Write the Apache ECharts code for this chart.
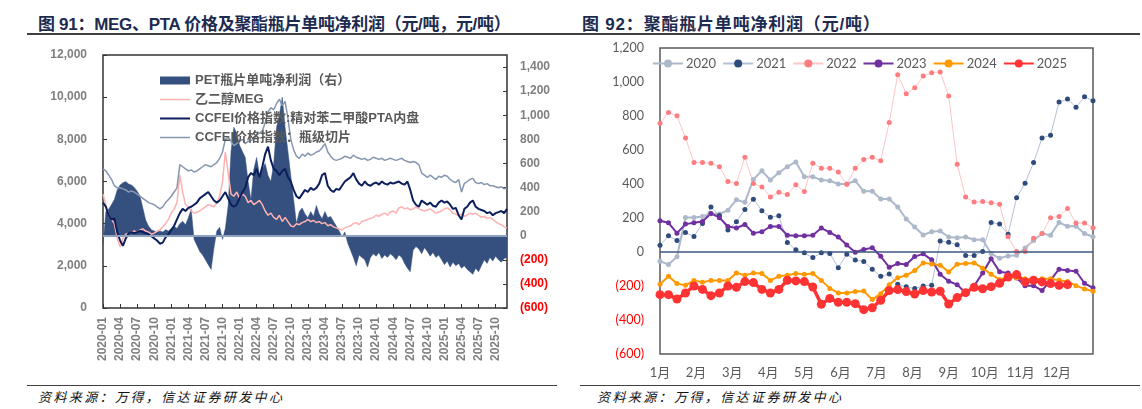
<!DOCTYPE html>
<html>
<head>
<meta charset="utf-8">
<script src="https://cdn.jsdelivr.net/npm/echarts@6/dist/echarts.min.js"></script>
<style>
  body { margin:0; width:1142px; height:409px; background:#fff; position:relative; overflow:hidden; }
  .title { position:absolute; top:10px; font:bold 17px "Liberation Sans","Noto Sans CJK SC",sans-serif; color:#1d2b50; white-space:nowrap; }
  .rule { position:absolute; background:#404040; }
  .src { position:absolute; top:387px; font:italic 13px "Noto Sans CJK SC",sans-serif; letter-spacing:2.4px; color:#111; white-space:nowrap; }
  .chart { position:absolute; top:0; height:385px; }
</style>
</head>
<body>
<div class="title" style="left:38px;letter-spacing:-0.3px">图 91：MEG、PTA 价格及聚酯瓶片单吨净利润（元/吨，元/吨）</div>
<div class="title" style="left:582px;letter-spacing:0.8px">图 92：聚酯瓶片单吨净利润（元/吨）</div>
<div class="rule" style="left:27px;top:33px;width:1113px;height:2px"></div>
<div id="left" class="chart" style="left:0;width:570px"></div>
<div id="right" class="chart" style="left:570px;width:572px"></div>
<div class="rule" style="left:27px;top:385px;width:530px;height:1px"></div>
<div class="rule" style="left:580px;top:385px;width:560px;height:1px"></div>
<div class="src" style="left:38px">资料来源：万得，信达证券研发中心</div>
<div class="src" style="left:597px">资料来源：万得，信达证券研发中心</div>
<script>
// ---------- 图91 数据（半月一个点，2020-01 ~ 2025-12） ----------
var years = [2020, 2021, 2022, 2023, 2024, 2025];
// PET瓶片单吨净利润（右轴）
var profit2020 = [-80,200,220,260,300,380,420,440,450,430,420,400,370,330,230,130,80,50,40,30,40,30,50,40];
var profit2021 = [60,80,60,100,120,90,150,220,-30,-80,-130,-160,-200,-240,-280,-100,40,70,-30,60,250,700,900,850];
var profit2022 = [750,700,650,450,300,550,650,500,550,600,500,450,600,900,1000,1150,900,700,500,300,100,200,230,180];
var profit2023 = [150,200,160,250,180,140,200,150,160,120,80,40,-10,30,-60,-120,-180,-250,-160,-180,-200,-260,-180,-150];
var profit2024 = [-170,-140,-190,-160,-180,-150,-170,-200,-160,-180,-230,-270,-300,-120,-90,-110,-150,-100,-130,-170,-140,-180,-160,-200];
var profit2025 = [-240,-210,-260,-220,-250,-230,-270,-250,-280,-300,-320,-270,-300,-250,-200,-230,-180,-210,-170,-200,-220,-190,-180];
// 乙二醇MEG
var meg2020 = [5400,4900,4400,4200,4000,3300,2900,3300,3500,3550,3600,3650,3600,3700,3750,3650,3600,3500,3550,3650,3700,3850,4000,4200];
var meg2021 = [4500,4700,5000,6300,5500,4900,4800,4600,4500,4550,4600,4700,4800,4900,4850,4800,5000,5300,6000,7400,6400,5400,5300,5500];
var meg2022 = [5200,5400,5300,5000,5100,4900,5000,5100,4900,4600,4400,4500,4300,4200,4400,4100,4300,4100,3900,3850,4000,3950,4050,4100];
var meg2023 = [4200,4100,4150,4050,4100,4000,4050,3900,3950,3850,3800,3750,3700,3800,3850,3900,4000,4050,3950,4100,4150,4200,4250,4300];
var meg2024 = [4400,4350,4450,4500,4400,4550,4600,4500,4750,4800,4700,4750,4650,4700,4800,4700,4650,4600,4650,4700,4600,4500,4550,4600];
var meg2025 = [4700,4750,4650,4500,4450,4400,4450,4350,4400,4500,4450,4500,4400,4300,4350,4250,4300,4200,4100,4000,3950,3850,3800];
// CCFEI价格指数:精对苯二甲酸PTA内盘
var pta2020 = [5000,4800,4400,4200,4250,3600,3200,2950,3300,3550,3600,3550,3600,3650,3600,3550,3500,3400,3300,3200,3050,3100,3350,3500];
var pta2021 = [3700,3900,4200,4500,4700,4600,4750,4800,4900,5000,5200,5300,5400,5500,5300,5100,5000,5100,5300,5500,5200,4900,4800,4900];
var pta2022 = [5200,5500,5700,6200,6400,6300,6600,6200,6700,7300,7650,7000,6600,6500,6300,6500,6600,6200,6000,5600,5300,5200,5400,5600];
var pta2023 = [5500,5700,5600,5700,5900,6300,6400,5800,5600,5500,5650,5600,5800,6000,6100,6200,6400,6100,5900,5800,6000,5850,5800,5900];
var pta2024 = [5950,5850,6000,5900,5850,5950,5900,5950,6000,5900,5850,6000,5600,5100,4900,4800,5100,5000,4900,5000,4850,4800,5000,5100];
var pta2025 = [5000,5050,4900,4700,4750,4400,4200,4700,4800,5000,5100,4800,4700,4650,4600,4500,4550,4400,4500,4550,4600,4500,4700];
// CCFEI价格指数：瓶级切片
var chip2020 = [6600,6500,6300,6100,5800,5700,5700,5650,5600,5500,5550,5500,5400,5300,5200,5100,5000,4950,4900,4800,4700,4800,5000,5150];
var chip2021 = [5300,5500,5700,6800,6700,6600,6500,6550,6450,6500,6600,6700,6800,6750,6700,6800,6900,7100,7400,8000,8100,7900,7700,7800];
var chip2022 = [7900,8000,7800,7900,7950,8000,8200,8300,8400,8800,9300,9500,9400,9700,9900,9600,9800,9000,8000,7500,7200,7100,7300,7200];
var chip2023 = [7350,7250,7300,7400,7450,7600,7800,7400,7200,7050,7000,7050,7100,7200,7150,7100,7250,7150,7100,7050,7100,7000,7050,7150];
var chip2024 = [7100,7050,7100,7000,7050,7100,7050,7000,7050,7100,7000,6950,6900,6950,6900,6800,6400,6300,6200,6300,6200,6100,6250,6200];
var chip2025 = [6300,6250,6100,6000,5950,6100,5500,5900,6000,6100,6150,5950,5900,5950,5850,5900,5800,5800,5750,5700,5750,5650,5700];

// ---------- 图92 数据（周度） ----------
var monthLabels = ['1月','2月','3月','4月','5月','6月','7月','8月','9月','10月','11月','12月',''];
var y2020 = [-54,-74,-28,203,203,209,225,223,246,307,292,427,478,423,466,502,530,443,443,423,419,400,400,419,357,357,
             312,312,265,194,147,100,119,123,88,84,88,72,72,-9,-37,-23,-19,23,68,109,99,174,151,151,109,90];
var y2021 = [40,95,68,115,91,167,264,214,130,178,250,311,242,205,213,56,13,-5,-33,-5,-9,-92,-13,-47,-56,-101,
             -143,-129,-190,-205,-215,-200,-195,64,58,42,-21,-21,3,174,164,105,319,405,526,671,687,882,900,852,913,890];
var y2022 = [758,821,801,671,526,526,522,502,415,403,557,403,383,324,352,338,395,356,522,493,493,471,398,493,544,557,
             537,762,1043,931,966,1035,1055,1059,917,516,323,294,297,289,281,89,3,3,81,109,201,209,256,170,170,143];
var y2023 = [184,172,111,164,172,180,227,202,150,141,162,111,119,150,150,99,95,95,99,141,115,88,41,-1,15,25,
             -25,-90,-68,-74,-27,-11,-46,-131,-172,-192,-241,-200,-123,-39,-116,-123,-153,-198,-198,-227,-166,-101,-109,-113,-184,-211];
var y2024 = [-190,-143,-186,-196,-167,-178,-167,-167,-167,-123,-137,-123,-127,-167,-143,-137,-127,-131,-127,-167,-214,-241,-241,-233,-229,-280,
             -245,-192,-152,-137,-109,-64,-70,-78,-117,-72,-68,-64,-95,-131,-162,-148,-152,-158,-162,-158,-158,-166,-174,-198,-217,-231];
var y2025 = [-251,-251,-277,-241,-200,-220,-257,-241,-200,-208,-174,-180,-220,-241,-220,-166,-170,-174,-206,-308,-273,-296,-296,-304,-339,-328,
             -284,-227,-221,-233,-247,-227,-235,-231,-306,-268,-239,-208,-216,-204,-184,-147,-133,-176,-166,-176,-186,-196,-192];

// 半月日期类目
var dates = [];
years.forEach(function (y) {
    for (var m = 1; m <= 12; m++) {
        var mm = (m < 10 ? '0' : '') + m;
        dates.push(y + '-' + mm + '-01');
        dates.push(y + '-' + mm + '-16');
    }
});
dates = dates.slice(0, 143);
var profit = [].concat(profit2020, profit2021, profit2022, profit2023, profit2024, profit2025);
var meg = [].concat(meg2020, meg2021, meg2022, meg2023, meg2024, meg2025);
var pta = [].concat(pta2020, pta2021, pta2022, pta2023, pta2024, pta2025);
var chip = [].concat(chip2020, chip2021, chip2022, chip2023, chip2024, chip2025);

var weeks = [];
for (var i = 1; i <= 52; i++) weeks.push('W' + i);

function thousands(v) {
    return String(Math.abs(v)).replace(/\B(?=(\d{3})+(?!\d))/g, ',');
}
function signed(v) {  // 负数用括号、红色
    return v < 0 ? '{n|(' + thousands(v) + ')}' : '{p|' + thousands(v) + '}';
}
// 图例里的细线图标（保持比例，30 x 线宽）
function barIcon(h) {
    return 'path://M0,0 H60 V' + (h * 2) + ' H0 Z';
}

// ---------- 图91 ----------
var leftFont = '"Liberation Sans", Arial, "Noto Sans CJK SC", sans-serif';
var optionL = {
    animation: false,
    textStyle: { fontFamily: leftFont },
    grid: { left: 103, top: 55, width: 404, height: 253, show: true, borderColor: '#333333', borderWidth: 1.5 },
    legend: {
        orient: 'vertical',
        left: 155,
        top: 69,
        itemWidth: 30,
        itemHeight: 8,
        itemGap: 6,
        textStyle: { color: '#595959', fontSize: 13, fontWeight: 'bold', fontFamily: leftFont },
        data: [
            { name: 'PET瓶片单吨净利润（右）', icon: 'rect' },
            { name: '乙二醇MEG', icon: barIcon(1.5) },
            { name: 'CCFEI价格指数:精对苯二甲酸PTA内盘', icon: barIcon(2) },
            { name: 'CCFEI价格指数：瓶级切片', icon: barIcon(1.5) }
        ]
    },
    xAxis: {
        type: 'category',
        data: dates,
        boundaryGap: false,
        axisLine: { show: false },
        axisTick: { show: true, inside: true, interval: 5, length: 4, lineStyle: { color: '#333333' } },
        axisLabel: {
            interval: 5, rotate: 90, margin: 9,
            color: '#7f7f7f', fontWeight: 'bold', fontSize: 12,
            formatter: function (v) { return v.slice(0, 7); }
        }
    },
    yAxis: [{
        type: 'value', min: 0, max: 12000, interval: 2000,
        splitLine: { show: false },
        axisLine: { show: false },
        axisTick: { show: true, inside: true, length: 4, lineStyle: { color: '#333333' } },
        axisLabel: { margin: 16, color: '#7f7f7f', fontWeight: 'bold', fontSize: 12, formatter: thousands }
    }, {
        type: 'value', min: -600, max: 1500, interval: 200, position: 'right',
        splitLine: { show: false },
        axisLine: { show: false },
        axisTick: { show: true, inside: true, length: 4, lineStyle: { color: '#333333' } },
        axisLabel: {
            margin: 13, showMaxLabel: false, formatter: signed,
            rich: {
                p: { color: '#7f7f7f', fontWeight: 'bold', fontSize: 12, fontFamily: leftFont },
                n: { color: '#ff0000', fontWeight: 'bold', fontSize: 12, fontFamily: leftFont }
            }
        }
    }],
    series: [{
        name: 'PET瓶片单吨净利润（右）',
        type: 'line', yAxisIndex: 1, data: profit,
        symbol: 'none', color: '#35507e',
        lineStyle: { width: 0.5, color: '#35507e' },
        areaStyle: { color: '#35507e', opacity: 1 },
        markLine: {
            silent: true, symbol: 'none', label: { show: false },
            lineStyle: { color: '#8ea2bf', width: 2, type: 'solid' },
            data: [{ yAxis: 0 }]
        }
    }, {
        name: '乙二醇MEG', type: 'line', data: meg, symbol: 'none',
        color: '#ffb0b0', lineStyle: { width: 1.5, color: '#ffb0b0' }
    }, {
        name: 'CCFEI价格指数:精对苯二甲酸PTA内盘', type: 'line', data: pta, symbol: 'none',
        color: '#0b1f5c', lineStyle: { width: 2, color: '#0b1f5c' }
    }, {
        name: 'CCFEI价格指数：瓶级切片', type: 'line', data: chip, symbol: 'none',
        color: '#8596b0', lineStyle: { width: 1.5, color: '#8596b0' }
    }]
};
echarts.init(document.getElementById('left')).setOption(optionL);

// ---------- 图92 ----------
var rightFont = 'Lato, "Noto Sans CJK SC", sans-serif';
function yearSeries(name, data, dot, line, width, size) {
    return {
        name: name, type: 'line', data: data, xAxisIndex: 0,
        symbol: 'circle', symbolSize: size, showAllSymbol: true,
        color: dot,
        itemStyle: { color: dot },
        lineStyle: { color: line, width: width }
    };
}
var seriesR = [
    yearSeries('2020', y2020, '#adb9ca', '#adb9ca', 2, 5),
    yearSeries('2021', y2021, '#2f4b7c', '#b4c0d6', 1, 5),
    yearSeries('2022', y2022, '#ff7c80', '#ffc4c6', 1, 5),
    yearSeries('2023', y2023, '#7030a0', '#7030a0', 2, 5),
    yearSeries('2024', y2024, '#ff9900', '#ff9900', 2, 5),
    yearSeries('2025', y2025, '#ff3333', '#ff3333', 3.5, 9)
];
seriesR[0].markLine = {
    silent: true, symbol: 'none', label: { show: false },
    lineStyle: { color: '#3e5780', width: 1.5, type: 'solid' },
    data: [{ yAxis: 0 }]
};
var optionR = {
    animation: false,
    textStyle: { fontFamily: rightFont },
    grid: { left: 90, top: 48, width: 433, height: 306, show: true, borderColor: '#595959', borderWidth: 1.5 },
    legend: {
        left: 77, top: 52,
        itemWidth: 30, itemHeight: 10, itemGap: 6,
        textStyle: { color: '#595959', fontSize: 13, fontFamily: rightFont, padding: [0, 0, 0, -2] },
        data: ['2020', '2021', '2022', '2023', '2024', '2025']
    },
    xAxis: [{
        type: 'category', data: weeks, boundaryGap: false,
        axisLine: { show: false }, axisTick: { show: false }, axisLabel: { show: false }
    }, {
        type: 'category', data: monthLabels, boundaryGap: false, position: 'bottom',
        axisLine: { show: false }, axisTick: { show: false },
        axisLabel: { interval: 0, margin: 12, color: '#595959', fontSize: 13 }
    }],
    yAxis: {
        type: 'value', min: -600, max: 1200, interval: 200,
        splitLine: { show: false }, axisLine: { show: false }, axisTick: { show: false },
        axisLabel: {
            margin: 16, formatter: signed,
            rich: {
                p: { color: '#595959', fontSize: 12.5, fontFamily: rightFont },
                n: { color: '#ff0000', fontSize: 12.5, fontFamily: rightFont }
            }
        }
    },
    series: seriesR
};
echarts.init(document.getElementById('right')).setOption(optionR);
</script>
</body>
</html>
